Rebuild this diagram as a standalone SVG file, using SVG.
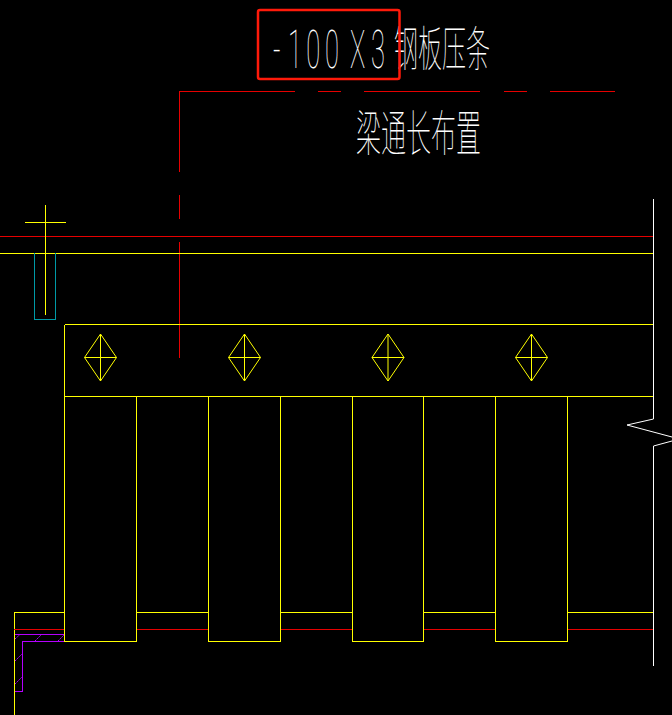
<svg xmlns="http://www.w3.org/2000/svg" width="672" height="715" viewBox="0 0 672 715">
<style>
.l{fill:none;stroke-width:1;shape-rendering:crispEdges}
.y{stroke:#ffff00}.r{stroke:#e60000}.w{stroke:#ffffff}.c{stroke:#009aa6}.p{stroke:#b400ff}
.d{fill:none;stroke:#ffff00;stroke-width:1}
.t{fill:#fff;font-family:"Noto Sans CJK SC","Roboto",sans-serif;font-weight:100}
.n{fill:#fff;font-family:"Roboto","Liberation Sans",sans-serif;font-weight:100}
</style>
<rect width="672" height="715" fill="#000"/>
<g id="connectors">
<path class="l r" d="M179.500 91.500H295M318 91.500H341M364 91.500H480M504 91.500H527M550 91.500H615M179.500 91V172M179.500 195V219M179.500 242V358"/>
<path class="l r" d="M0 236.500H653"/>
<path class="l y" d="M0 253.500H653M45.500 205V315M25 222.500H66"/>
<path class="l c" d="M34.500 253V319.500H55.500V253"/>
</g>
<g id="beam">
<path class="l y" d="M65 324.500H653M64.500 325V641.500H136.500V397M64.500 396.500H653"/>
</g>
<g id="columns">
<path class="l y" d="M208.500 397V641.500H280.500V397M352.500 397V641.500H423.500V397M495.500 397V641.500H567.500V397"/>
<path class="l y" d="M14.500 612.500H64M137 612.500H208M281 612.500H352M424 612.500H495M568 612.500H653M14.500 612V715"/>
<path class="l r" d="M14 629.500H64M137 629.500H208M281 629.500H352M424 629.500H495M568 629.500H653"/>
</g>
<g id="diamond1"><path class="d" d="M100.500 334L116.500 357.500L100.500 381L84.500 357.500ZM84.500 357.500H116.500M100.500 334V381"/></g>
<g id="diamond2"><path class="d" d="M244.500 334L260.500 357.500L244.500 381L228.500 357.500ZM228.500 357.500H260.500M244.500 334V381"/></g>
<g id="diamond3"><path class="d" d="M388 334L404 357.500L388 381L372 357.500ZM372 357.500H404M388 334V381"/></g>
<g id="diamond4"><path class="d" d="M531.500 334L547.500 357.500L531.500 381L515.500 357.500ZM515.500 357.500H547.500M531.500 334V381"/></g>
<g id="break-line">
<path fill="none" stroke="#fff" d="M653.500 199V419L627 425L672 437M672 441L653.500 446V666"/>
</g>
<g id="corner">
<path class="l p" d="M15 634.500H64M22.500 641.500H64M22.500 641V691.500H15"/>
<path fill="none" stroke="#b400ff" stroke-dasharray="2 1" d="M15 639L20 634.500M35 641L41 635M58 641L64 635M15 661L22 654M15 684L22 677"/>
</g>
<g id="labels">
<text class="n" transform="translate(0 68) scale(.48 1)" font-size="53" x="569 600 638 677 709 729 773">-100 X3</text>
<text class="t" transform="translate(394 66) scale(.5 1)" font-size="48">钢板压条</text>
<text class="t" transform="translate(356 151) scale(.51 1)" font-size="49">梁通长布置</text>
</g>
<rect id="highlight" x="258" y="10" width="141.500" height="69" rx="2" fill="none" stroke="#ff1a0a" stroke-width="2.500"/>
</svg>
